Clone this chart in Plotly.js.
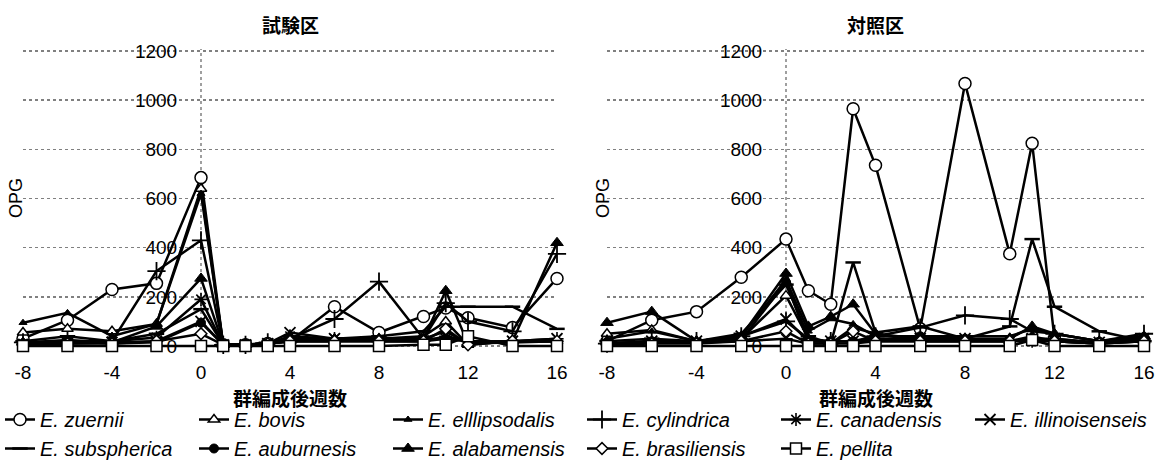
<!DOCTYPE html>
<html>
<head>
<meta charset="utf-8">
<script src="https://cdn.plot.ly/plotly-3.0.1.min.js"></script>
<style>html,body{margin:0;padding:0;background:#fff;}#chart{width:1173px;height:463px;}</style>
</head>
<body>
<div id="chart"></div>
<script>
// weeks after group formation
const weeks = [-8, -6, -4, -2, 0, 1, 2, 3, 4, 6, 8, 10, 11, 12, 14, 16];

const species = ["E. zuernii", "E. bovis", "E. elllipsodalis", "E. cylindrica", "E. canadensis",
  "E. illinoisenseis", "E. subspherica", "E. auburnesis", "E. alabamensis", "E. brasiliensis", "E. pellita"];

// 試験区 (test plot)
const testZuernii        = [30, 105, 230, 255, 685, 5, 5, 10, 20, 160, 55, 120, 155, 115, 75, 275];
const testBovis          = [55, 70, 60, 90, 640, 5, 5, 10, 20, 20, 30, 40, 100, 5, 20, 20];
const testEllipsodalis   = [95, 135, 40, 90, 620, 5, 5, 10, 30, 30, 30, 30, 60, 10, 15, 20];
const testCylindrica     = [15, 20, 20, 305, 430, 5, 5, 15, 30, 110, 262, 30, 175, 100, 60, 375];
const testCanadensis     = [10, 15, 20, 35, 190, 5, 5, 10, 40, 30, 20, 20, 40, 20, 20, 30];
const testIllinoisenseis = [5, 10, 15, 20, 100, 5, 5, 10, 55, 30, 20, 20, 30, 20, 20, 30];
const testSubspherica    = [20, 40, 20, 50, 150, 5, 5, 10, 20, 30, 40, 60, 160, 160, 160, 70];
const testAuburnesis     = [10, 20, 10, 15, 95, 5, 5, 10, 20, 20, 20, 30, 30, 20, 20, 20];
const testAlabamensis    = [15, 25, 15, 80, 275, 5, 5, 10, 30, 30, 30, 30, 225, 10, 20, 420];
const testBrasiliensis   = [5, 10, 10, 20, 50, 5, 5, 10, 20, 20, 20, 20, 70, 5, 20, 20];
const testPellita        = [0, 0, 0, 0, 0, 0, 0, 0, 0, 0, 0, 5, 5, 40, 0, 0];

// 対照区 (control plot)
const ctrlZuernii        = [20, 105, 140, 280, 435, 225, 170, 965, 735, 70, 1068, 375, 825, 30, 10, 25];
const ctrlBovis          = [50, 65, 20, 30, 205, 30, 10, 75, 50, 20, 20, 20, 40, 20, 10, 20];
const ctrlEllipsodalis   = [30, 60, 20, 40, 270, 60, 110, 90, 40, 40, 40, 40, 70, 50, 20, 40];
const ctrlCylindrica     = [10, 20, 20, 40, 100, 30, 20, 20, 40, 75, 125, 110, 60, 50, 20, 50];
const ctrlCanadensis     = [10, 15, 15, 20, 30, 10, 10, 10, 20, 20, 20, 20, 20, 20, 10, 20];
const ctrlIllinoisenseis = [10, 20, 20, 40, 110, 20, 20, 20, 30, 30, 30, 20, 30, 30, 15, 30];
const ctrlSubspherica    = [20, 30, 20, 50, 250, 40, 10, 340, 55, 80, 30, 80, 435, 160, 60, 20];
const ctrlAuburnesis     = [10, 20, 15, 25, 260, 20, 20, 20, 20, 40, 30, 20, 30, 20, 10, 30];
const ctrlAlabamensis    = [95, 140, 20, 40, 295, 80, 120, 170, 50, 30, 30, 30, 80, 50, 20, 40];
const ctrlBrasiliensis   = [5, 10, 10, 20, 60, 10, 10, 60, 20, 20, 20, 20, 30, 20, 10, 20];
const ctrlPellita        = [0, 0, 0, 0, 0, 0, 0, 0, 0, 0, 0, 0, 25, 0, 0, 0];

const testSeries = [testZuernii, testBovis, testEllipsodalis, testCylindrica, testCanadensis,
  testIllinoisenseis, testSubspherica, testAuburnesis, testAlabamensis, testBrasiliensis, testPellita];
const ctrlSeries = [ctrlZuernii, ctrlBovis, ctrlEllipsodalis, ctrlCylindrica, ctrlCanadensis,
  ctrlIllinoisenseis, ctrlSubspherica, ctrlAuburnesis, ctrlAlabamensis, ctrlBrasiliensis, ctrlPellita];

const xTicks = [-8, -4, 0, 4, 8, 12, 16];
const xTickLabels = ["-8", "-4", "0", "4", "8", "12", "16"];
const yTicks = [0, 200, 400, 600, 800, 1000, 1200];
const yTickLabels = ["0", "200", "400", "600", "800", "1000", "1200"];
const panelTitles = ["試験区", "対照区"];
const xTitle = "群編成後週数";
const yTitle = "OPG";

// styling (not data)
const markerStyles = [
  {symbol: "circle", size: 12, color: "#fff", line: {color: "#000", width: 1.5}},
  {symbol: "triangle-up", size: 10, color: "#fff", line: {color: "#000", width: 1.5}},
  {symbol: "triangle-up", size: 7, color: "#000", line: {color: "#000", width: 1}},
  {symbol: "cross-thin", size: 13, color: "#000", line: {color: "#000", width: 1.8}},
  {symbol: "asterisk", size: 11, color: "#000", line: {color: "#000", width: 1.6}},
  {symbol: "x-thin", size: 11, color: "#000", line: {color: "#000", width: 1.8}},
  {symbol: "line-ew", size: 11, color: "#000", line: {color: "#000", width: 2.5}},
  {symbol: "circle", size: 9, color: "#000", line: {color: "#000", width: 1}},
  {symbol: "triangle-up", size: 11, color: "#000", line: {color: "#000", width: 1}},
  {symbol: "diamond", size: 9, color: "#fff", line: {color: "#000", width: 1.5}},
  {symbol: "square", size: 11, color: "#fff", line: {color: "#000", width: 1.5}}
];

const xRange = [-8, 16];
const yRange = [-16, 1208];
const domL = [23 / 1173, 557 / 1173];
const domR = [607 / 1173, 1144 / 1173];
const domY = [1 - 350 / 463, 1 - 49 / 463];
const frac0 = (0 - xRange[0]) / (xRange[1] - xRange[0]);
const posAt0 = d => d[0] + (d[1] - d[0]) * frac0;

const traces = [];
[[testSeries, "x", "y", true], [ctrlSeries, "x2", "y2", false]].forEach(([series, xa, ya, leg]) => {
  series.forEach((vals, i) => {
    traces.push({
      type: "scatter", mode: "lines+markers",
      x: weeks, y: vals, xaxis: xa, yaxis: ya,
      name: "<i>" + species[i] + "</i>",
      legendgroup: "g" + i, showlegend: leg,
      line: {color: "#000", width: 2.5},
      marker: markerStyles[i],
      cliponaxis: false
    });
  });
});

const fontFam = "Liberation Sans, Arial, sans-serif";
const cjk = "Noto Sans CJK JP, sans-serif";

function xAx(dom, anchor) {
  return {domain: dom, range: xRange, anchor: anchor, tickvals: xTicks, ticktext: xTickLabels,
    ticks: "outside", ticklen: 5, tickcolor: "rgba(0,0,0,0)",
    showgrid: false, zeroline: false, showline: false, automargin: false,
    tickfont: {family: fontFam, size: 19, color: "#000"}, fixedrange: true};
}
function yAx(dom) {
  return {domain: domY, range: yRange, anchor: "free", position: posAt0(dom),
    tickvals: yTicks, ticktext: yTickLabels, ticks: "outside", ticklen: 20, tickcolor: "rgba(0,0,0,0)",
    showgrid: true, gridcolor: "#808080", gridwidth: 1.5, griddash: "dot",
    zeroline: false, showline: false, automargin: false,
    tickfont: {family: fontFam, size: 19, color: "#000"}, fixedrange: true};
}

const annotations = [];
[domL, domR].forEach((d, k) => {
  annotations.push({text: panelTitles[k], xref: "paper", yref: "paper", x: (d[0] + d[1]) / 2, y: 1 - 25 / 463,
    xanchor: "center", yanchor: "middle",
    showarrow: false, font: {family: cjk, size: 19, color: "#000", weight: "bold"}});
  annotations.push({text: xTitle, xref: "paper", yref: "paper", x: (d[0] + d[1]) / 2, y: 1 - 397 / 463,
    xanchor: "center", yanchor: "middle",
    showarrow: false, font: {family: cjk, size: 19, color: "#000", weight: "bold"}});
  annotations.push({text: yTitle, xref: "paper", yref: "paper", x: (k === 0 ? 16 : 603) / 1173, y: 1 - 198 / 463,
    xanchor: "center", yanchor: "middle",
    textangle: -90, showarrow: false, font: {family: fontFam, size: 18, color: "#000"}});
});

const shapes = [
  {type: "line", xref: "x", yref: "y domain", x0: 0, x1: 0, y0: 0, y1: 1, line: {color: "#808080", width: 1.5, dash: "dot"}, layer: "below"},
  {type: "line", xref: "x2", yref: "y2 domain", x0: 0, x1: 0, y0: 0, y1: 1, line: {color: "#808080", width: 1.5, dash: "dot"}, layer: "below"}
];

const layout = {
  width: 1173, height: 463,
  margin: {l: 0, r: 0, t: 0, b: 0, autoexpand: false},
  paper_bgcolor: "#fff", plot_bgcolor: "#fff",
  xaxis: xAx(domL, "y"), yaxis: yAx(domL),
  xaxis2: xAx(domR, "y2"), yaxis2: yAx(domR),
  showlegend: true,
  legend: {orientation: "h", x: 0, xanchor: "left", y: 1 - 400 / 463, yanchor: "top",
    font: {family: fontFam, size: 20, color: "#000"}, itemwidth: 30,
    entrywidth: 149, entrywidthmode: "pixels", tracegroupgap: 0, bgcolor: "rgba(0,0,0,0)"},
  annotations: annotations, shapes: shapes, hovermode: false
};

Plotly.newPlot("chart", traces, layout, {displayModeBar: false, staticPlot: true});
</script>
</body>
</html>
